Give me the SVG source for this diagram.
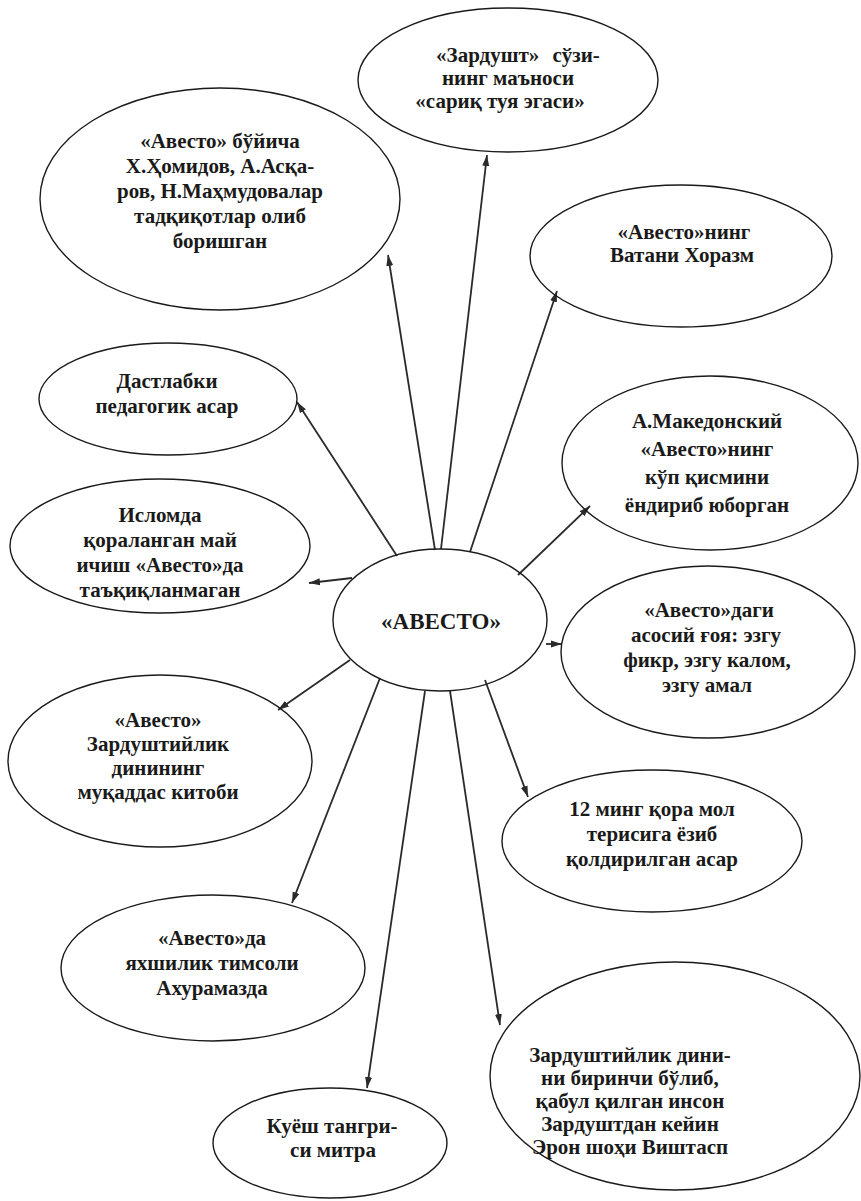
<svg xmlns="http://www.w3.org/2000/svg" width="861" height="1201" viewBox="0 0 861 1201">
<style>
.n{fill:none;stroke:#1a1a1a;stroke-width:1.4}
.t{font-family:"Liberation Serif","Times New Roman",serif;font-weight:bold;font-size:21px;fill:#1a1a1a;text-anchor:middle}
.c{stroke:#2a2a2a;stroke-width:1.8;fill:none;marker-end:url(#ah)}
</style>
<defs>
<marker id="ah" markerUnits="userSpaceOnUse" markerWidth="12" markerHeight="8" refX="11" refY="4" orient="auto">
<path d="M0,0.5 L11,4 L0,7.5 z" fill="#2a2a2a"/>
</marker>
</defs>
<rect width="861" height="1201" fill="#fff"/>
<g id="connectors">
<line class="c" x1="435" y1="550" x2="388" y2="255"/>
<line class="c" x1="441" y1="549" x2="487" y2="155"/>
<line class="c" x1="470" y1="552" x2="557" y2="291"/>
<line class="c" x1="397" y1="556" x2="297" y2="402"/>
<line class="c" x1="352" y1="578" x2="309" y2="583"/>
<line class="c" x1="518" y1="575" x2="590" y2="506"/>
<line class="c" x1="546" y1="644" x2="562" y2="644"/>
<line class="c" x1="350" y1="660" x2="278" y2="710"/>
<line class="c" x1="380" y1="678" x2="292" y2="903"/>
<line class="c" x1="425" y1="691" x2="367" y2="1088"/>
<line class="c" x1="450" y1="691" x2="500" y2="1025"/>
<line class="c" x1="485" y1="680" x2="528" y2="797"/>
</g>
<g id="center">
<ellipse class="n" cx="440" cy="620" rx="107" ry="71"/>
<text class="t" x="441" y="629" style="font-size:23px">«АВЕСТО»</text>
</g>
<g id="node-a">
<ellipse class="n" cx="220" cy="199" rx="180" ry="111"/>
<text class="t" x="220" y="148">«Авесто» бўйича</text>
<text class="t" x="220" y="173">Х.Ҳомидов, А.Асқа-</text>
<text class="t" x="220" y="198">ров, Н.Маҳмудовалар</text>
<text class="t" x="220" y="223">тадқиқотлар олиб</text>
<text class="t" x="220" y="248">боришган</text>
</g>
<g id="node-b">
<ellipse class="n" cx="508" cy="80" rx="150" ry="72"/>
<text class="t" x="518" y="62" word-spacing="8">«Зардушт» сўзи-</text>
<text class="t" x="508" y="85">нинг маъноси</text>
<text class="t" x="500" y="108">«сариқ туя эгаси»</text>
</g>
<g id="node-c">
<ellipse class="n" cx="681" cy="256" rx="151" ry="71"/>
<text class="t" x="684" y="239">«Авесто»нинг</text>
<text class="t" x="682" y="262">Ватани Хоразм</text>
</g>
<g id="node-d">
<ellipse class="n" cx="168" cy="399" rx="129" ry="56"/>
<text class="t" x="167" y="388">Дастлабки</text>
<text class="t" x="167" y="413">педагогик асар</text>
</g>
<g id="node-e">
<ellipse class="n" cx="160" cy="546" rx="150" ry="67"/>
<text class="t" x="160" y="522">Исломда</text>
<text class="t" x="160" y="547">қораланган май</text>
<text class="t" x="160" y="572">ичиш «Авесто»да</text>
<text class="t" x="160" y="597">таъқиқланмаган</text>
</g>
<g id="node-f">
<ellipse class="n" cx="710" cy="463" rx="148" ry="87"/>
<text class="t" x="707" y="428">А.Македонский</text>
<text class="t" x="707" y="456">«Авесто»нинг</text>
<text class="t" x="707" y="484">кўп қисмини</text>
<text class="t" x="707" y="512">ёндириб юборган</text>
</g>
<g id="node-g">
<ellipse class="n" cx="708" cy="652" rx="147" ry="86"/>
<text class="t" x="709" y="617">«Авесто»даги</text>
<text class="t" x="706" y="642">асосий ғоя: эзгу</text>
<text class="t" x="707" y="667">фикр, эзгу калом,</text>
<text class="t" x="707" y="692">эзгу амал</text>
</g>
<g id="node-h">
<ellipse class="n" cx="652" cy="841" rx="150" ry="71"/>
<text class="t" x="652" y="816">12 минг қора мол</text>
<text class="t" x="652" y="841">терисига ёзиб</text>
<text class="t" x="652" y="866">қолдирилган асар</text>
</g>
<g id="node-i">
<ellipse class="n" cx="675" cy="1076" rx="185" ry="114"/>
<text class="t" x="630" y="1062">Зардуштийлик дини-</text>
<text class="t" x="630" y="1085">ни биринчи бўлиб,</text>
<text class="t" x="630" y="1108">қабул қилган инсон</text>
<text class="t" x="630" y="1131">Зардуштдан кейин</text>
<text class="t" x="630" y="1154">Эрон шоҳи Виштасп</text>
</g>
<g id="node-j">
<ellipse class="n" cx="160" cy="761" rx="152" ry="86"/>
<text class="t" x="158" y="727">«Авесто»</text>
<text class="t" x="158" y="751">Зардуштийлик</text>
<text class="t" x="158" y="775">динининг</text>
<text class="t" x="158" y="799">муқаддас китоби</text>
</g>
<g id="node-k">
<ellipse class="n" cx="213" cy="968" rx="152" ry="73"/>
<text class="t" x="212" y="945">«Авесто»да</text>
<text class="t" x="212" y="970">яхшилик тимсоли</text>
<text class="t" x="212" y="995">Ахурамазда</text>
</g>
<g id="node-l">
<ellipse class="n" cx="330" cy="1143" rx="117" ry="55"/>
<text class="t" x="332" y="1133">Куёш тангри-</text>
<text class="t" x="333" y="1157">си митра</text>
</g>
</svg>
